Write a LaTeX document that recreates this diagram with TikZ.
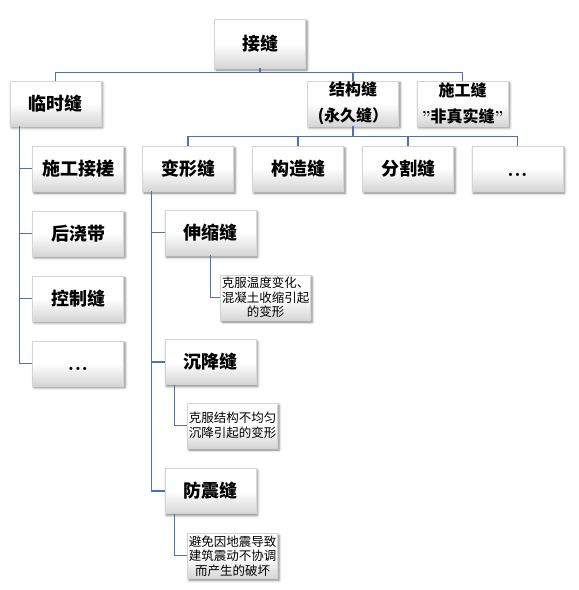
\documentclass[tikz,border=0pt]{standalone}
\usepackage{fontspec}
\usetikzlibrary{positioning,shadows.blur}
\newfontfamily\cjk{Noto Sans CJK SC}
\definecolor{LinkBlue}{HTML}{4A72B8}
\definecolor{BoxEdge}{HTML}{D4D4D4}
\newcommand{\moredots}{{\rmfamily\bfseries\fontsize{22}{22}\selectfont\vphantom{X}...}}

\begin{document}
\begin{tikzpicture}[x=1pt,y=-1pt,node distance=19.5pt,
    box/.style={draw=BoxEdge,line width=0.4pt,top color=white,bottom color=black!16,middle color=white,
      blur shadow={shadow xshift=1.5pt,shadow yshift=-2pt,shadow blur radius=2.5pt,shadow opacity=50},
      minimum width=91pt,minimum height=45pt,inner sep=1pt,align=center,
      font=\cjk\bfseries\fontsize{18}{20}\selectfont},
    pair/.style={box,font=\cjk\bfseries\fontsize{16}{26}\selectfont},
    note/.style={box,minimum width=90pt,font=\cjk\fontsize{12.5}{14.5}\selectfont},
    link/.style={draw=LinkBlue,line width=1.1pt}]
  \useasboundingbox (0,0) rectangle (579,590);

  % top levels
  \node[box,minimum height=49pt] (seam) at (260,43.5) {接缝};
  \node[box] (temp) at (55.5,103.3) {临时缝};
  \node[pair] (struct) at (353,103.3) {结构缝\\(永久缝）};
  \node[pair] (constr) at (462.7,103.3) {施工缝\\{\rmfamily''}非真实缝{\rmfamily''}};

  \node[box] (deform) at (188,168.5) {变形缝};
  \node[box] (detail) at (298,168.5) {构造缝};
  \node[box] (split) at (408,168.5) {分割缝};
  \node[box] (more) at (517.5,168.5) {\moredots};

  % temporary joints
  \node[box] (jointA) at (78,168.5) {施工接槎};
  \node[box,below=of jointA] (postcast) {后浇带};
  \node[box,below=of postcast] (control) {控制缝};
  \node[box,below=of control] (moreT) {\moredots};

  % deformation joints
  \node[box] (expan) at (210.5,232.5) {伸缩缝};
  \node[box] (settle) at (210.5,362) {沉降缝};
  \node[box] (quake) at (210.5,491) {防震缝};
  \node[note] (noteA) at (265.5,297.5) {克服温度变化、\\混凝土收缩引起\\的变形};
  \node[note] (noteB) at (232.5,425.5) {克服结构不均匀\\沉降引起的变形};
  \node[note] (noteC) at (232.5,555.8) {避免因地震导致\\建筑震动不协调\\而产生的破坏};

  % connectors
  \draw[link] (seam.south) -- ++(0,4) coordinate (busA);
  \draw[link] (temp.north) |- (busA) -| (constr.north);
  \draw[link] (busA -| struct.north) -- (struct.north);
  \draw[link] (struct.south) -- ++(0,10.7) coordinate (busB);
  \draw[link] (deform.north) |- (busB) -| (more.north);
  \foreach \n in {detail,split}
    \draw[link] (busB -| \n.north) -- (\n.north);

  \coordinate (spineT) at ([xshift=-36.2pt]temp.south);
  \draw[link] (spineT) |- (moreT.west);
  \foreach \n in {jointA,postcast,control}
    \draw[link] (spineT |- \n.west) -- (\n.west);

  \coordinate (spineD) at ([xshift=-36.5pt]deform.south);
  \draw[link] (spineD) |- (quake.west);
  \foreach \n in {expan,settle}
    \draw[link] (spineD |- \n.west) -- (\n.west);

  \draw[link] (expan.south) |- (noteA.west);
  \draw[link] ([xshift=-36.2pt]settle.south) |- (noteB.west);
  \draw[link] ([xshift=-36.2pt]quake.south) |- (noteC.west);
\end{tikzpicture}
\end{document}
